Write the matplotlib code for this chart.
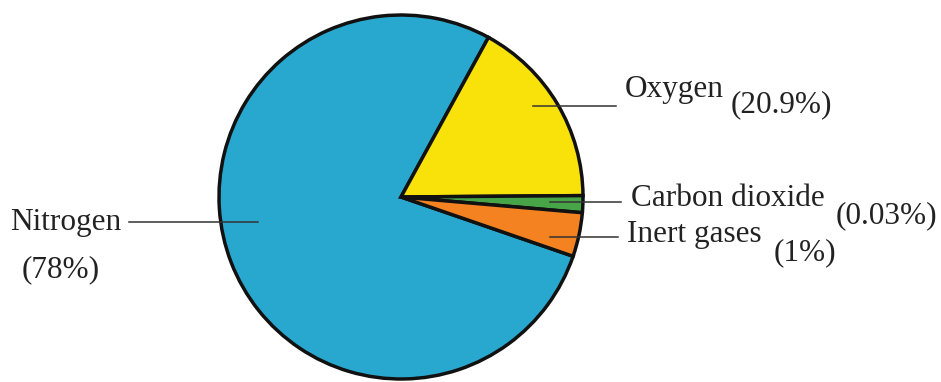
"""Composition of air pie chart."""
import matplotlib
matplotlib.use('Agg')
import matplotlib.pyplot as plt

# data
gases = ['Nitrogen', 'Oxygen', 'Carbon dioxide', 'Inert gases']
pct_labels = ['(78%)', '(20.9%)', '(0.03%)', '(1%)']
# slice sizes as drawn in the picture (not to scale with the labels)
drawn_share = [77.7, 16.9, 1.5, 3.9]
colors = ['#29A8CF', '#F8E20A', '#47A447', '#F58220']

W, H = 941, 382
plt.rcParams.update({
    'font.family': ['Liberation Serif', 'DejaVu Serif'],
    'font.size': 22.5,
})

fig = plt.figure(figsize=(W / 100, H / 100), dpi=100)
ax = fig.add_axes([0, 0, 1, 1])

ax.pie(drawn_share, colors=colors, startangle=-19, counterclock=False,
       radius=182, center=(401, H - 197),
       wedgeprops=dict(edgecolor='#111111', linewidth=2.5))
ax.set_xlim(0, W)
ax.set_ylim(0, H)
ax.set_aspect('auto')
ax.axis('off')

txt = '#222222'
# (name x, name baseline, pct x, pct baseline, leader x0, leader x1, leader y) in pixels
layout = {
    'Nitrogen':       (10, 230, 22, 277, 129, 258, 222),
    'Oxygen':         (625, 97, 731, 112, 533, 616, 106),
    'Carbon dioxide': (631, 206, 836, 223, 550, 621, 202),
    'Inert gases':    (627, 242, 774, 260, 550, 618, 237),
}
for name, pct in zip(gases, pct_labels):
    nx, ny, px, py, lx0, lx1, ly = layout[name]
    ax.text(nx, H - ny, name, ha='left', va='baseline', color=txt)
    ax.text(px, H - py, pct, ha='left', va='baseline', color=txt)
    ax.plot([lx0, lx1], [H - ly, H - ly], color='#333333', linewidth=1.1)

fig.savefig('out.png', dpi=100)
plt.close(fig)
